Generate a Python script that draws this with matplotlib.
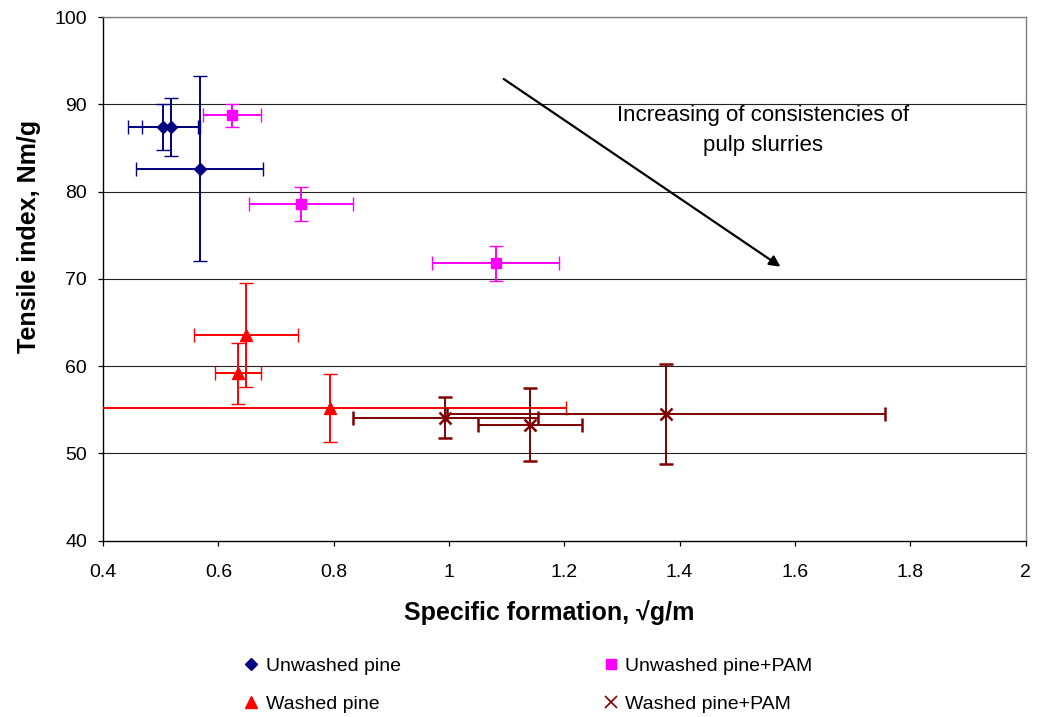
import matplotlib
matplotlib.use("Agg")
import matplotlib.pyplot as plt
from matplotlib.lines import Line2D

plt.rcParams['font.family'] = ['Liberation Sans', 'DejaVu Sans']

# Tensile index vs specific formation, mean ± spread for each pulp series
unwashed_x = [0.504, 0.518, 0.568]
unwashed_y = [87.4, 87.4, 82.6]
unwashed_xerr = [0.06, 0.05, 0.11]
unwashed_yerr = [2.65, 3.3, 10.6]

unwashed_pam_x = [0.624, 0.744, 1.081]
unwashed_pam_y = [88.75, 78.6, 71.8]
unwashed_pam_xerr = [0.05, 0.09, 0.11]
unwashed_pam_yerr = [1.32, 1.97, 2.0]

washed_x = [0.648, 0.634, 0.794]
washed_y = [63.6, 59.2, 55.2]
washed_xerr = [0.09, 0.04, 0.409]
washed_yerr = [5.95, 3.5, 3.85]

washed_pam_x = [0.994, 1.141, 1.376]
washed_pam_y = [54.1, 53.3, 54.5]
washed_pam_xerr = [0.16, 0.09, 0.38]
washed_pam_yerr = [2.35, 4.2, 5.7]

series_labels = ["Unwashed pine", "Unwashed pine+PAM", "Washed pine", "Washed pine+PAM"]
x_ticks = [0.4, 0.6, 0.8, 1.0, 1.2, 1.4, 1.6, 1.8, 2.0]
x_tick_labels = ["0.4", "0.6", "0.8", "1", "1.2", "1.4", "1.6", "1.8", "2"]
y_ticks = [40, 50, 60, 70, 80, 90, 100]

W, H = 1039, 717
fig = plt.figure(figsize=(W / 100, H / 100), dpi=100)
ax = fig.add_axes([103 / W, 1 - 540.7 / H, (1025.5 - 103) / W, (540.7 - 17) / H])

ax.set_xlim(0.4, 2.0)
ax.set_ylim(40, 100)
ax.set_xticks(x_ticks)
ax.set_xticklabels(x_tick_labels)
ax.set_yticks(y_ticks)

for v in y_ticks[1:]:
    ax.axhline(v, color="#222222", lw=0.8, zorder=0.5)

for s in ["top", "right"]:
    ax.spines[s].set_color("#808080")
    ax.spines[s].set_linewidth(1.0)
for s in ["left", "bottom"]:
    ax.spines[s].set_color("black")
    ax.spines[s].set_linewidth(1.0)

ax.tick_params(axis="both", direction="out", length=3.5, width=0.9, labelsize=14)
ax.tick_params(axis="x", pad=13)
ax.tick_params(axis="y", pad=8)

styles = [
    (unwashed_x, unwashed_y, unwashed_xerr, unwashed_yerr, "#000080", "D", 6.5, 1.0),
    (unwashed_pam_x, unwashed_pam_y, unwashed_pam_xerr, unwashed_pam_yerr, "#FF00FF", "s", 7.5, 1.0),
    (washed_x, washed_y, washed_xerr, washed_yerr, "#FF0000", "^", 9.0, 1.0),
    (washed_pam_x, washed_pam_y, washed_pam_xerr, washed_pam_yerr, "#800000", "x", 8.5, 1.8),
]

for (xs, ys, xe, ye, c, m, ms, mew) in styles:
    ax.errorbar(xs, ys, xerr=xe, yerr=ye, fmt=m, color=c, ecolor=c,
                ms=ms, mew=mew, mec=c, mfc=c, elinewidth=1.4,
                capsize=5, capthick=1.4, zorder=3)

# trend arrow and its caption
ax.annotate("", xy=(1.575, 71.4), xytext=(1.095, 92.9),
            arrowprops=dict(arrowstyle="-|>", color="black", lw=1.6,
                            mutation_scale=16, shrinkA=0, shrinkB=0))
ax.text(1.545, 87.0, "Increasing of consistencies of\npulp slurries",
        ha="center", va="center", fontsize=16, linespacing=1.6)

fig.text(549 / W, 1 - 613 / H, "Specific formation, \u221ag/m",
         ha="center", va="center", fontsize=18, fontweight="bold")
fig.text(29 / W, 1 - 236 / H, "Tensile index, Nm/g", rotation=90,
         ha="center", va="center", fontsize=18, fontweight="bold")

handles = [
    Line2D([], [], ls="none", marker="D", color="#000080", ms=6.5),
    Line2D([], [], ls="none", marker="^", color="#FF0000", ms=9),
    Line2D([], [], ls="none", marker="s", color="#FF00FF", ms=7),
    Line2D([], [], ls="none", marker="x", color="#800000", ms=9, mew=1.2),
]
labels = [series_labels[0], series_labels[2], series_labels[1], series_labels[3]]
fig.legend(handles, labels, ncol=2, loc="center", bbox_to_anchor=(528 / W, 1 - 685 / H),
           frameon=False, fontsize=14, handlelength=0.8, handletextpad=0.35,
           columnspacing=10.4, labelspacing=1.05)

fig.savefig("out.png", dpi=100)
